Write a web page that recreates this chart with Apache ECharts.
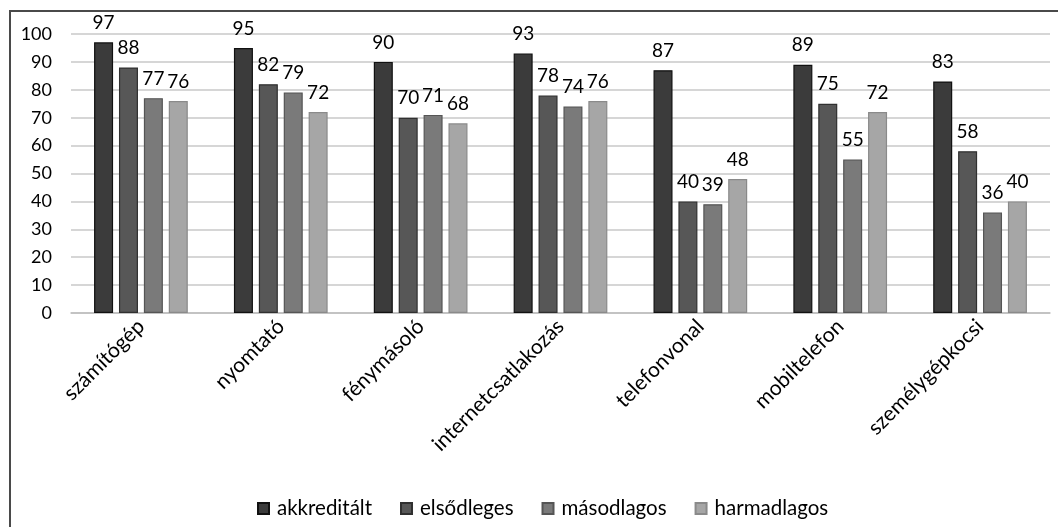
<!DOCTYPE html>
<html>
<head>
<meta charset="utf-8">
<script src="https://cdn.jsdelivr.net/npm/echarts@6/dist/echarts.min.js"></script>
<style>
html,body{margin:0;padding:0;background:#fff;}
#wrap{position:absolute;left:0;top:0;width:1058px;height:527px;}
#frame{position:absolute;left:9px;top:10px;width:1049px;height:517px;border-left:2px solid #4a4a4a;border-top:2px solid #4a4a4a;}
#chart{position:absolute;left:0;top:0;width:1058px;height:527px;}
</style>
</head>
<body>
<div id="wrap"><div id="frame"></div><div id="chart"></div></div>
<script>
const categories = ['számítógép','nyomtató','fénymásoló','internetcsatlakozás','telefonvonal','mobiltelefon','személygépkocsi'];
const akkreditalt = [97,95,90,93,87,89,83];
const elsodleges = [88,82,70,78,40,75,58];
const masodlagos = [77,79,71,74,39,55,36];
const harmadlagos = [76,72,68,76,48,72,40];
const seriesNames = ['akkreditált','elsődleges','másodlagos','harmadlagos'];
const yTicks = [0,10,20,30,40,50,60,70,80,90,100];

const FONT = 'Lato';
const colors = ['#3b3b3b','#575757','#7a7a7a','#a6a6a6'];
const borders = ['#111111','#303030','#555555','#8a8a8a'];
const data = [akkreditalt, elsodleges, masodlagos, harmadlagos];

const chart = echarts.init(document.getElementById('chart'), null, {renderer:'canvas'});
chart.setOption({
  animation:false,
  backgroundColor:'transparent',
  textStyle:{fontFamily:FONT},
  legend:{
    bottom:3, left:252,
    itemWidth:11, itemHeight:11, itemGap:28,
    icon:'rect',
    textStyle:{fontFamily:FONT,fontSize:20.5,color:'#000',padding:[0,0,0,3]},
    data:seriesNames
  },
  grid:{left:71,right:8,top:34,bottom:214,containLabel:false},
  xAxis:{
    type:'category',
    data:categories,
    axisLine:{lineStyle:{color:'#bdbdbd',width:1.5}},
    axisTick:{show:false},
    axisLabel:{rotate:45,color:'#000',fontSize:21,fontFamily:FONT,margin:10,interval:0}
  },
  yAxis:{
    type:'value',min:yTicks[0],max:yTicks[yTicks.length-1],interval:10,
    axisLine:{show:false},axisTick:{show:false},
    splitLine:{lineStyle:{color:'#c8c8c8',width:1.5}},
    axisLabel:{color:'#000',fontSize:18,fontFamily:FONT,margin:19}
  },
  series: seriesNames.map((n,i)=>({
    name:n,type:'bar',data:data[i],
    barGap:'31%',barCategoryGap:'33%',
    itemStyle:{color:colors[i],borderColor:borders[i],borderWidth:1.2},
    label:{show:true,position:'top',distance:10,color:'#000',fontSize:19,fontFamily:FONT}
  }))
});
</script>
</body>
</html>
